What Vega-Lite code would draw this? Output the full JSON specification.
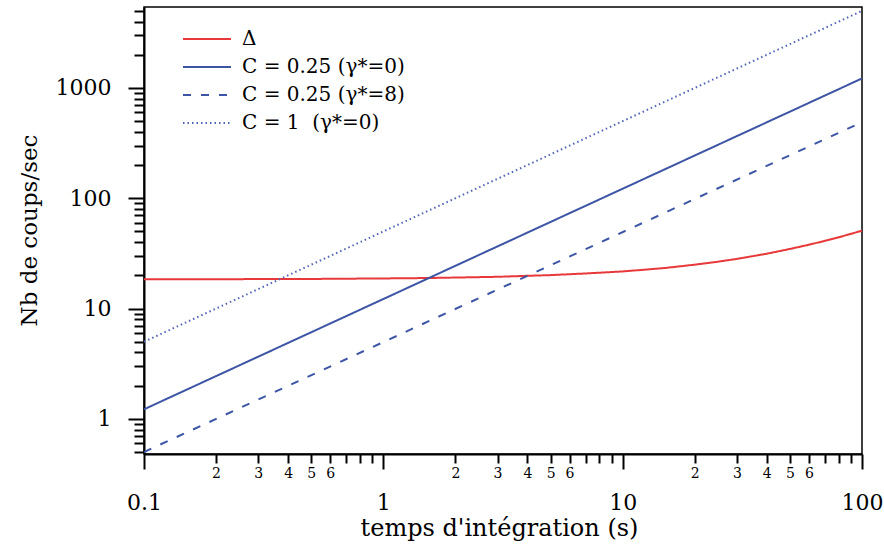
{
  "$schema": "https://vega.github.io/schema/vega-lite/v6.json",
  "autosize": {"type": "none"},
  "width": 718,
  "height": 447,
  "padding": {"left": 144, "top": 7, "right": 22, "bottom": 100},
  "background": "white",
  "config": {
    "font": "DejaVu Serif",
    "view": {"stroke": "black", "strokeWidth": 1.5},
    "axis": {"domainColor": "black", "domainWidth": 2, "tickColor": "black", "tickWidth": 2, "labelColor": "black", "titleColor": "black", "grid": false, "labelFont": "DejaVu Serif", "titleFont": "DejaVu Serif", "titleFontWeight": "normal"},
    "legend": {"labelFont": "DejaVu Serif", "labelLimit": 0}
  },
  "data": {
    "values": [
      {"serie": "Δ", "t": 0.1, "v": 18.4},
      {"serie": "Δ", "t": 0.2, "v": 18.45},
      {"serie": "Δ", "t": 0.3, "v": 18.5},
      {"serie": "Δ", "t": 0.5, "v": 18.55},
      {"serie": "Δ", "t": 0.7, "v": 18.65},
      {"serie": "Δ", "t": 1, "v": 18.75},
      {"serie": "Δ", "t": 1.5, "v": 18.9},
      {"serie": "Δ", "t": 2, "v": 19.1},
      {"serie": "Δ", "t": 3, "v": 19.4},
      {"serie": "Δ", "t": 4, "v": 19.8},
      {"serie": "Δ", "t": 5, "v": 20.1},
      {"serie": "Δ", "t": 7, "v": 20.8},
      {"serie": "Δ", "t": 10, "v": 21.7},
      {"serie": "Δ", "t": 15, "v": 23.3},
      {"serie": "Δ", "t": 20, "v": 25.0},
      {"serie": "Δ", "t": 25, "v": 26.6},
      {"serie": "Δ", "t": 30, "v": 28.2},
      {"serie": "Δ", "t": 40, "v": 31.4},
      {"serie": "Δ", "t": 50, "v": 34.7},
      {"serie": "Δ", "t": 60, "v": 37.9},
      {"serie": "Δ", "t": 70, "v": 41.1},
      {"serie": "Δ", "t": 80, "v": 44.3},
      {"serie": "Δ", "t": 90, "v": 47.6},
      {"serie": "Δ", "t": 100, "v": 50.8},
      {"serie": "C = 0.25 (γ*=0)", "t": 0.1, "v": 1.22},
      {"serie": "C = 0.25 (γ*=0)", "t": 100, "v": 1220},
      {"serie": "C = 0.25 (γ*=8)", "t": 0.1, "v": 0.5},
      {"serie": "C = 0.25 (γ*=8)", "t": 100, "v": 490},
      {"serie": "C = 1\u00a0 (γ*=0)", "t": 0.1, "v": 5.0},
      {"serie": "C = 1\u00a0 (γ*=0)", "t": 100, "v": 5000}
    ]
  },
  "mark": {"type": "line", "clip": true},
  "encoding": {
    "x": {
      "field": "t", "type": "quantitative",
      "scale": {"type": "log", "domain": [0.1, 100], "nice": false},
      "axis": {
        "values": [0.1,0.2,0.3,0.4,0.5,0.6,0.7,0.8,0.9,1,2,3,4,5,6,7,8,9,10,20,30,40,50,60,70,80,90,100],
        "labelExpr": "abs(log(datum.value)/LN10 - round(log(datum.value)/LN10)) < 0.001 ? (datum.value < 1 ? '0.1' : format(datum.value, 'd')) : (toNumber(slice(format(datum.value, '.0e'), 0, 1)) <= 6 ? slice(format(datum.value, '.0e'), 0, 1) : '')",
        "labelFont": "DejaVu Serif",
        "titleFont": "DejaVu Serif",
        "labelOverlap": false,
        "labelBound": false,
        "labelFlush": false,
        "tickSize": {"condition": {"test": "abs(log(datum.value)/LN10 - round(log(datum.value)/LN10)) < 0.001", "value": 15}, "value": 9},
        "labelFontSize": {"condition": {"test": "abs(log(datum.value)/LN10 - round(log(datum.value)/LN10)) < 0.001", "value": 22}, "value": 14},
        "labelPadding": {"condition": {"test": "abs(log(datum.value)/LN10 - round(log(datum.value)/LN10)) < 0.001", "value": 23}, "value": 3},
        "title": "temps d'intégration (s)",
        "titleFontSize": 24,
        "titleX": 355,
        "titleY": 81,
        "titleBaseline": "alphabetic",
        "titleAlign": "center"
      }
    },
    "y": {
      "field": "v", "type": "quantitative",
      "scale": {"type": "log", "domain": [0.48, 5420], "nice": false},
      "axis": {
        "values": [0.5,0.6,0.7,0.8,0.9,1,2,3,4,5,6,7,8,9,10,20,30,40,50,60,70,80,90,100,200,300,400,500,600,700,800,900,1000,2000,3000,4000,5000],
        "labelExpr": "abs(log(datum.value)/LN10 - round(log(datum.value)/LN10)) < 0.001 ? format(datum.value, 'd') : ''",
        "labelFont": "DejaVu Serif",
        "titleFont": "DejaVu Serif",
        "labelOverlap": false,
        "labelBound": false,
        "labelFlush": false,
        "tickSize": {"condition": {"test": "abs(log(datum.value)/LN10 - round(log(datum.value)/LN10)) < 0.001", "value": 16}, "value": 10},
        "labelPadding": {"condition": {"test": "abs(log(datum.value)/LN10 - round(log(datum.value)/LN10)) < 0.001", "value": 17}, "value": 2},
        "labelFontSize": 22,
        "title": "Nb de coups/sec",
        "titleFontSize": 23,
        "titleX": -108,
        "titleY": 223,
        "titleAngle": -90,
        "titleBaseline": "alphabetic",
        "titleAlign": "center"
      }
    },
    "color": {
      "field": "serie", "type": "nominal",
      "scale": {"domain": ["Δ", "C = 0.25 (γ*=0)", "C = 0.25 (γ*=8)", "C = 1\u00a0 (γ*=0)"], "range": ["#e8393a", "#3d55a5", "#3d55a5", "#5064b4"]},
      "legend": {"orient": "none", "legendX": 50, "legendY": 19, "title": null, "labelFont": "DejaVu Serif", "labelFontSize": 20, "labelLimit": 0, "symbolType": "M-2,0H2", "symbolSize": 576, "symbolStrokeWidth": 2, "labelOffset": 22, "rowPadding": 5, "labelColor": "black", "padding": 0}
    },
    "strokeDash": {
      "field": "serie", "type": "nominal",
      "scale": {"domain": ["Δ", "C = 0.25 (γ*=0)", "C = 0.25 (γ*=8)", "C = 1\u00a0 (γ*=0)"], "range": [[1, 0], [1, 0], [8, 10], [1.5, 3]]},
      "legend": {"orient": "none", "legendX": 50, "legendY": 19, "title": null, "labelFont": "DejaVu Serif", "labelFontSize": 20, "labelLimit": 0, "symbolType": "M-2,0H2", "symbolSize": 576, "symbolStrokeWidth": 2, "labelOffset": 22, "rowPadding": 5, "labelColor": "black", "padding": 0}
    },
    "strokeWidth": {
      "field": "serie", "type": "nominal",
      "scale": {"domain": ["Δ", "C = 0.25 (γ*=0)", "C = 0.25 (γ*=8)", "C = 1\u00a0 (γ*=0)"], "range": [2, 2, 2, 1.5]},
      "legend": null
    }
  }
}
